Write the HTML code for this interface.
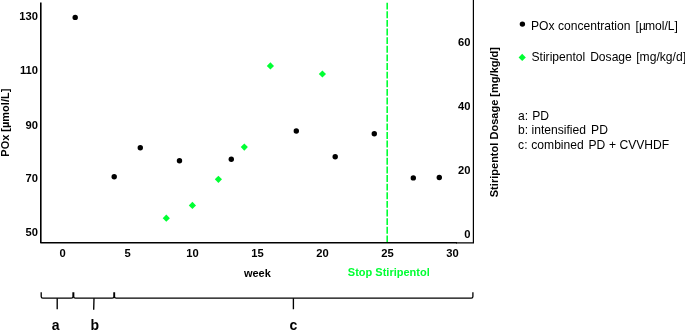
<!DOCTYPE html>
<html lang="en"><head><meta charset="utf-8"><title>POx and Stiripentol</title>
<style>
html,body{margin:0;padding:0;background:#fff;}
svg{display:block;}
text{font-family:"Liberation Sans",Arial,sans-serif;fill:#000;}
.b{font-weight:bold;font-size:11px;}
.t{font-weight:bold;font-size:11.2px;}
.r{font-size:12.1px;}
.l{font-weight:bold;font-size:14px;}
</style></head><body>
<svg width="685" height="331" viewBox="0 0 685 331">
<rect width="685" height="331" fill="#fff"/>
<path d="M40.8 2.4V242.8H457" fill="none" stroke="#000" stroke-width="1.6" stroke-linejoin="round"/>
<path d="M456 242.8H473.4V0" fill="none" stroke="#000" stroke-width="1.2" stroke-linejoin="miter"/>
<line x1="387.2" y1="2.7" x2="387.2" y2="242" stroke="#00ff33" stroke-width="1.6" stroke-dasharray="6.9 1.72"/>
<text class="t" x="38" y="19.65" text-anchor="end">130</text>
<text class="t" x="38" y="74.40" text-anchor="end">110</text>
<text class="t" x="38" y="128.60" text-anchor="end">90</text>
<text class="t" x="38" y="182.30" text-anchor="end">70</text>
<text class="t" x="38" y="236.40" text-anchor="end">50</text>
<text class="t" x="470.5" y="46.20" text-anchor="end">60</text>
<text class="t" x="470.5" y="110.30" text-anchor="end">40</text>
<text class="t" x="470.5" y="174.20" text-anchor="end">20</text>
<text class="t" x="470.5" y="238.20" text-anchor="end">0</text>
<text class="t" x="62.6" y="256.8" text-anchor="middle">0</text>
<text class="t" x="127.6" y="256.8" text-anchor="middle">5</text>
<text class="t" x="192.6" y="256.8" text-anchor="middle">10</text>
<text class="t" x="257.6" y="256.8" text-anchor="middle">15</text>
<text class="t" x="322.6" y="256.8" text-anchor="middle">20</text>
<text class="t" x="387.6" y="256.8" text-anchor="middle">25</text>
<text class="t" x="452.6" y="256.8" text-anchor="middle">30</text>
<text class="b" x="257.4" y="277.3" text-anchor="middle">week</text>
<text class="b" x="388.8" y="276.3" text-anchor="middle" style="fill:#00ff33">Stop Stiripentol</text>
<text class="b" transform="translate(9.15 122.7) rotate(-90) scale(1 1.066)" text-anchor="middle">POx [µmol/L]</text>
<text class="b" transform="translate(497.5 122.1) rotate(-90) scale(1 1.06)" style="letter-spacing:0.022px" text-anchor="middle">Stiripentol Dosage [mg/kg/d]</text>
<circle cx="75.2" cy="17.4" r="2.7"/>
<circle cx="114.2" cy="176.8" r="2.7"/>
<circle cx="140.3" cy="147.7" r="2.7"/>
<circle cx="179.5" cy="160.7" r="2.7"/>
<circle cx="231.3" cy="159.3" r="2.7"/>
<circle cx="296.3" cy="131.0" r="2.7"/>
<circle cx="335.2" cy="156.8" r="2.7"/>
<circle cx="374.3" cy="133.7" r="2.7"/>
<circle cx="413.3" cy="177.9" r="2.7"/>
<circle cx="439.3" cy="177.5" r="2.7"/>
<path d="M162.7 218.2L166.3 214.6L169.9 218.2L166.3 221.8Z" fill="#00ff33"/>
<path d="M188.8 205.4L192.4 201.8L196.0 205.4L192.4 209.0Z" fill="#00ff33"/>
<path d="M214.8 179.3L218.4 175.7L222.0 179.3L218.4 182.9Z" fill="#00ff33"/>
<path d="M240.7 147.1L244.3 143.5L247.9 147.1L244.3 150.7Z" fill="#00ff33"/>
<path d="M266.8 65.9L270.4 62.3L274.0 65.9L270.4 69.5Z" fill="#00ff33"/>
<path d="M318.8 74.0L322.4 70.4L326.0 74.0L322.4 77.6Z" fill="#00ff33"/>
<circle cx="522.4" cy="24.1" r="2.7"/>
<path d="M518.6 57.4L522.2 53.8L525.8 57.4L522.2 61.0Z" fill="#00ff33"/>
<text class="r" x="531.0" y="29.7">POx concentration <tspan dx="1.75">[µ</tspan><tspan dx="-1">mol/L]</tspan></text>
<text class="r" x="531.5" y="61.4">Stiripentol <tspan dx="1.5">Dosage</tspan> <tspan dx="1.05">[mg/kg/d]</tspan></text>
<text class="r" x="518.1" y="119.6">a: <tspan dx="0.65">PD</tspan></text>
<text class="r" x="518.1" y="134.0">b: intensified <tspan dx="1.7">PD</tspan></text>
<text class="r" x="518.1" y="148.8">c: <tspan dx="0.4">combined</tspan> <tspan dx="1.3">PD</tspan> <tspan dx="0.4">+</tspan> CVVHDF</text>
<path d="M41.2 292.2V296.59999999999997Q41.2 298.2 42.800000000000004 298.2H71.4Q73.0 298.2 73.0 296.59999999999997V292.2M73.7 292.2V296.59999999999997Q73.7 298.2 75.3 298.2H112.30000000000001Q113.9 298.2 113.9 296.59999999999997V292.2M114.5 292.2V296.59999999999997Q114.5 298.2 116.1 298.2H471.29999999999995Q472.9 298.2 472.9 296.59999999999997V292.2" fill="none" stroke="#000" stroke-width="1.3"/>
<path d="M57.2 298.2V309.2M94 298.2L93.7 309.7M293.4 298.2V309.3" fill="none" stroke="#000" stroke-width="1.35"/>
<text class="l" x="55.6" y="329.5" text-anchor="middle">a</text>
<text class="l" x="94.7" y="329.5" text-anchor="middle">b</text>
<text class="l" x="293.4" y="329.5" text-anchor="middle">c</text>
</svg>
</body></html>
